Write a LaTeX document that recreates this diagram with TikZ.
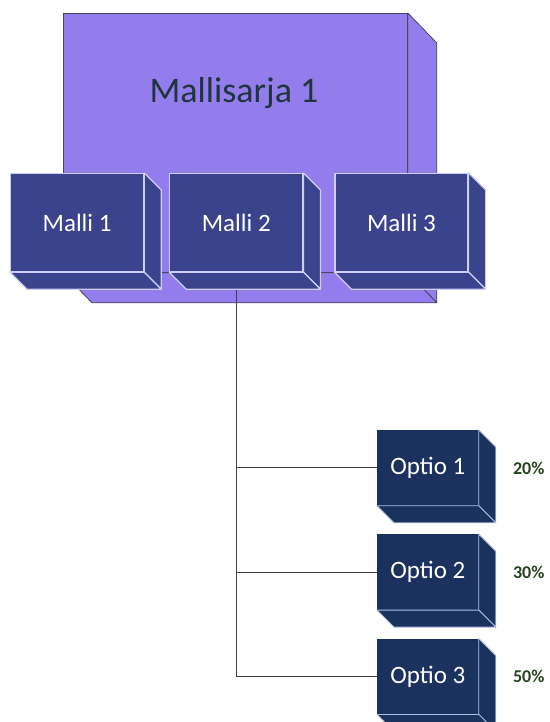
\documentclass[tikz,border=0pt]{standalone}
\usepackage{fontspec}
\setmainfont{Carlito}
\usetikzlibrary{positioning,calc}

\definecolor{sarjatayte}{RGB}{147,124,236}
\definecolor{sarjaviiva}{RGB}{70,70,95}
\definecolor{sarjateksti}{RGB}{32,52,62}
\definecolor{mallitayte}{RGB}{58,67,140}
\definecolor{malliviiva}{RGB}{205,205,245}
\definecolor{optiotayte}{RGB}{28,50,94}
\definecolor{optioviiva}{RGB}{175,190,225}
\definecolor{osuusteksti}{RGB}{38,68,32}

\tikzset{
  sarjabox/.style={draw=sarjaviiva, fill=sarjatayte, line width=0.8pt,
    minimum width=344pt, minimum height=259pt, inner sep=0pt, anchor=north west},
  sarjareuna/.style={draw=sarjaviiva, fill=sarjatayte, line width=0.8pt, line join=round},
  sarjanimi/.style={text=sarjateksti, font=\fontsize{36}{40}\selectfont, inner sep=0pt},
  mallibox/.style={draw=malliviiva, fill=mallitayte, line width=1.2pt, text=white,
    font=\fontsize{25}{28}\selectfont, minimum width=133pt, minimum height=98pt,
    inner sep=0pt, anchor=north west},
  mallireuna/.style={draw=malliviiva, fill=mallitayte, line width=1.2pt, line join=round},
  optiobox/.style={draw=optiotayte, fill=optiotayte, line width=0.8pt, text=white,
    font=\fontsize{25}{28}\selectfont, minimum width=101pt, minimum height=75pt,
    inner sep=0pt, anchor=north west},
  optioreuna/.style={draw=optioviiva, fill=optiotayte, line width=0.8pt, line join=round},
  osuus/.style={text=osuusteksti, font=\bfseries\fontsize{18}{21}\selectfont, inner sep=0pt},
  yhteys/.style={draw=black!75, line width=1pt}
}

% side and bottom faces of a box: node, dx, dy, style
\newcommand{\kyljet}[4]{%
  \draw[#4] (#1.north east) -- ++(#2,-#3) -- ($(#1.south east)+(#2,-#3)$) -- (#1.south east) -- cycle;
  \draw[#4] (#1.south west) -- (#1.south east) -- ++(#2,-#3) -- ($(#1.south west)+(#2,-#3)$) -- cycle;
}

\begin{document}
\begin{tikzpicture}[x=1pt,y=1pt]
    \useasboundingbox (0,0) rectangle (549,-722);

    % Mallisarja
    \node[sarjabox] (sarja) at (63,-13) {};
    \kyljet{sarja}{29}{30}{sarjareuna}
    \node[sarjanimi] (sarjaotsikko) at (234,-93) {Mallisarja 1};

    % Mallit
    \node[mallibox] (m1) at (10,-173) {Malli 1};
    \node[mallibox, right=25pt of m1] (m2) {Malli 2};
    \node[mallibox, right=31pt of m2] (m3) {Malli 3};

    % Optiot
    \node[optiobox] (o1) at (377,-430) {Optio 1};
    \node[optiobox, below=28.5pt of o1] (o2) {Optio 2};
    \node[optiobox, below=28.5pt of o2] (o3) {Optio 3};

    \node[osuus, right=34pt of o1] (p1) {20\%};
    \node[osuus, right=34pt of o2] (p2) {30\%};
    \node[osuus, right=34pt of o3] (p3) {50\%};

    % Connectors
    \draw[yhteys] (m2.south) |- (o3.west);
    \draw[yhteys] (m2.south |- o1.west) -- (o1.west);
    \draw[yhteys] (m2.south |- o2.west) -- (o2.west);

    % Faces
    \foreach \n in {m1,m2,m3}{\kyljet{\n}{17}{17}{mallireuna}}
    \foreach \n in {o1,o2,o3}{\kyljet{\n}{17}{17}{optioreuna}}
\end{tikzpicture}
\end{document}
